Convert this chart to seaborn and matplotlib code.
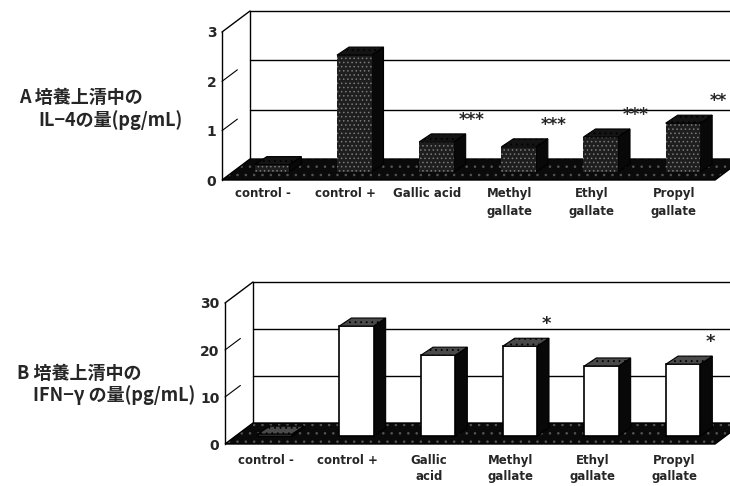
import numpy as np
import pandas as pd
import matplotlib
matplotlib.use("Agg")
import matplotlib.pyplot as plt
import seaborn as sns
from matplotlib.patches import Polygon

# ---------------- data ----------------
labels_a = ["control -", "control +", "Gallic acid", "Methyl\ngallate", "Ethyl\ngallate", "Propyl\ngallate"]
labels_b = ["control -", "control +", "Gallic\nacid", "Methyl\ngallate", "Ethyl\ngallate", "Propyl\ngallate"]
il4_values = [0.15, 2.37, 0.61, 0.51, 0.71, 0.99]
ifng_values = [0.4, 23.4, 17.2, 19.1, 14.9, 15.3]
il4_sig = ["", "", "***", "***", "***", "**"]
ifng_sig = ["", "", "", "*", "", "*"]
il4_ticks = [0, 1, 2, 3]
ifng_ticks = [0, 10, 20, 30]
title_a = ["A 培養上清中の", "IL−4の量(pg/mL)"]
title_b = ["B 培養上清中の", "IFN−γ の量(pg/mL)"]

sns.set_style("white")
JP = ["Noto Sans CJK JP", "DejaVu Sans"]
plt.rcParams["font.family"] = JP
plt.rcParams["hatch.linewidth"] = 0.6

W, H = 730, 486
fig = plt.figure(figsize=(W / 100, H / 100), dpi=100)


def place(x0, x1, ybot, ytop):
    return [x0 / W, (H - ybot) / H, (x1 - x0) / W, (ybot - ytop) / H]


def draw_panel(ax, labels, values, ticks, sig, dark, sig_dx, star_size, lspace):
    df = pd.DataFrame({"cat": labels, "val": values})
    sns.barplot(data=df, x="cat", y="val", ax=ax, width=0.42, errorbar=None,
                color="white", saturation=1, zorder=5)
    bars = list(ax.patches)
    ymax = ticks[-1]
    ax.set_xlim(-0.5, len(labels) - 0.5)
    ax.set_ylim(0, ymax)
    pos = ax.get_position()
    sx = pos.width * W / len(labels)
    sy = pos.height * H / ymax

    def d(px, py):
        return px / sx, py / sy

    wdx, wdy = d(28, 21)       # wall depth
    fdx, fdy = d(9, 8)         # bar front offset from floor front
    bdx, bdy = d(12, 8)        # bar depth
    x_l, x_r = -0.5, len(labels) - 0.5

    floor = [(x_l, 0), (x_r, 0), (x_r + wdx, wdy), (x_l + wdx, wdy)]
    ax.add_patch(Polygon(floor, closed=True, facecolor="#0a0a0a", edgecolor="#555555",
                         hatch="..", lw=0, zorder=1, clip_on=False))
    ax.add_patch(Polygon(floor, closed=True, fill=False, edgecolor="black", lw=1,
                         zorder=1.1, clip_on=False))
    # back wall
    ax.plot([x_l + wdx, x_l + wdx], [wdy, ymax + wdy], color="black", lw=1, zorder=0.5, clip_on=False)
    ax.plot([x_l, x_l + wdx], [ymax, ymax + wdy], color="black", lw=1, zorder=0.5, clip_on=False)
    for t in ticks[1:]:
        ax.plot([x_l + wdx, x_r + wdx], [t + wdy, t + wdy], color="black", lw=1,
                zorder=0.5, clip_on=False)
        if t != ymax:
            ax.plot([x_l, x_l + wdx * 0.55], [t, t + wdy * 0.55], color="black", lw=0.8,
                    zorder=0.5, clip_on=False)

    for p, v, s in zip(bars, values, sig):
        x0 = p.get_x() + fdx
        w = p.get_width()
        x1 = x0 + w
        y0 = fdy
        y1 = fdy + v
        p.set_x(x0)
        p.set_y(y0)
        if dark:
            p.set_facecolor("#1e1e1e")
            p.set_edgecolor("#7a7a7a")
            p.set_hatch("....")
            p.set_linewidth(0)
            side_c, top_c = "#080808", "#141414"
        else:
            p.set_facecolor("white")
            p.set_edgecolor("black")
            p.set_linewidth(1.2)
            side_c, top_c = "#080808", "#4a4a4a"
        side = Polygon([(x1, y0), (x1, y1), (x1 + bdx, y1 + bdy), (x1 + bdx, y0 + bdy)],
                       closed=True, facecolor=side_c, edgecolor="black", lw=0.8,
                       zorder=4, clip_on=False)
        top = Polygon([(x0, y1), (x1, y1), (x1 + bdx, y1 + bdy), (x0 + bdx, y1 + bdy)],
                      closed=True, facecolor=top_c, edgecolor="black", lw=0.8,
                      hatch="...", zorder=6, clip_on=False)
        ax.add_patch(side)
        ax.add_patch(top)
        p.set_clip_on(False)
        if s:
            ax.annotate(s, ((x0 + x1) / 2 + sig_dx, y1), xytext=(0, 16),
                        textcoords="offset points", ha="center", va="center",
                        fontsize=star_size, fontweight="bold", family="DejaVu Sans",
                        annotation_clip=False)

    for sp in ["top", "right", "bottom"]:
        ax.spines[sp].set_visible(False)
    ax.spines["left"].set_linewidth(1)
    ax.spines["left"].set_color("black")
    ax.set_yticks(ticks)
    ax.set_yticklabels([str(t) for t in ticks], fontsize=10, fontweight="bold",
                       family="DejaVu Sans")
    ax.tick_params(axis="y", length=0, pad=4)
    ax.tick_params(axis="x", length=0, pad=5)
    ax.set_xticks(range(len(labels)))
    ax.set_xticklabels(labels, fontsize=8.5, fontweight="bold", linespacing=lspace,
                       family="DejaVu Sans")
    ax.set_xlabel("")
    ax.set_ylabel("")
    ax.patch.set_alpha(0)


ax1 = fig.add_axes(place(222, 715, 180, 32))
ax2 = fig.add_axes(place(225, 715, 444, 303))

draw_panel(ax1, labels_a, il4_values, il4_ticks, il4_sig, True, 0.43, 12, 1.55)
draw_panel(ax2, labels_b, ifng_values, ifng_ticks, ifng_sig, False, 0.33, 13, 1.35)
ax2.tick_params(axis="x", pad=7)

for (x, y), t in zip([(19, 97), (38, 120), (17, 373), (33, 395)],
                     title_a + title_b):
    fig.text(x / W, 1 - y / H, t, fontsize=13, fontweight="bold", va="center", ha="left")

fig.savefig("out.png", dpi=100)
